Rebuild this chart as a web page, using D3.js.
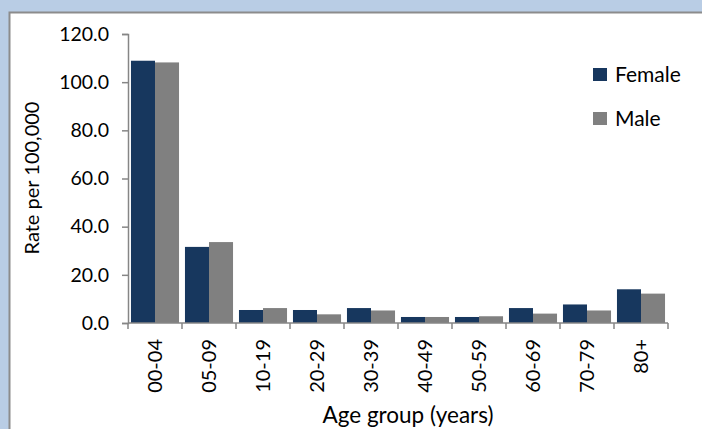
<!DOCTYPE html>
<html>
<head>
<meta charset="utf-8">
<script src="https://cdn.jsdelivr.net/npm/d3@7"></script>
<style>
  body { margin: 0; background: #b9cde5; }
  svg { display: block; }
  text { font-family: Lato, "Open Sans", sans-serif; fill: #000; }
</style>
</head>
<body>
<div id="chart"></div>
<script>
// data
let ageGroups = ["00-04", "05-09", "10-19", "20-29", "30-39", "40-49", "50-59", "60-69", "70-79", "80+"]
let femaleRate = [108.9, 31.6, 5.4, 5.4, 6.2, 2.5, 2.5, 6.2, 7.7, 14.0]
let maleRate = [108.2, 33.6, 6.2, 3.6, 5.2, 2.5, 2.8, 3.9, 5.2, 12.2]
let seriesNames = ["Female", "Male"]
let yTicks = [0, 20, 40, 60, 80, 100, 120]

let width = 702, height = 429
let color = { "Female": "#17375e", "Male": "#808080" }
let axisColor = "#868686"
let margin = { left: 128, top: 34, right: 34, bottom: 106 }

let svg = d3.select("#chart").append("svg")
    .attr("width", width)
    .attr("height", height)

// white panel with grey edge
svg.append("rect")
    .attr("x", 9.5).attr("y", 12.5)
    .attr("width", width).attr("height", height)
    .attr("fill", "#fff")
    .attr("stroke", "#8c8c8c")
    .attr("stroke-width", 2)

let x = d3.scaleBand()
    .domain(ageGroups)
    .range([margin.left, width - margin.right])
    .paddingInner(0.11)
    .paddingOuter(0.055)
let xSub = d3.scaleBand()
    .domain(seriesNames)
    .range([0, x.bandwidth()])
let y = d3.scaleLinear()
    .domain([0, 120])
    .range([height - margin.bottom, margin.top])

let rows = ageGroups.map((g, i) => ({ group: g, Female: femaleRate[i], Male: maleRate[i] }))

let groups = svg.append("g").selectAll("g")
    .data(rows)
    .enter()
    .append("g")
    .attr("transform", d => "translate(" + x(d.group) + ",0)")
groups.selectAll("rect")
    .data(d => seriesNames.map(s => ({ key: s, value: d[s] })))
    .enter()
    .append("rect")
    .attr("x", d => xSub(d.key))
    .attr("width", xSub.bandwidth())
    .attr("y", d => y(d.value))
    .attr("height", d => y(0) - y(d.value))
    .attr("fill", d => color[d.key])

// y axis
let yAxis = svg.append("g")
    .attr("transform", "translate(" + margin.left + ",0)")
    .call(d3.axisLeft(y).tickValues(yTicks).tickFormat(d3.format(".1f")).tickSize(6).tickPadding(13))
yAxis.selectAll("text").style("font-size", "19.5px")

// x axis: ticks at category boundaries
let x0 = margin.left, x1 = width - margin.right
let step = (x1 - x0) / ageGroups.length
let xAxis = svg.append("g")
xAxis.append("line")
    .attr("x1", x0).attr("x2", x1)
    .attr("y1", y(0)).attr("y2", y(0))
xAxis.selectAll(".xt")
    .data(d3.range(ageGroups.length + 1))
    .enter()
    .append("line")
    .attr("class", "xt")
    .attr("x1", i => x0 + i * step).attr("x2", i => x0 + i * step)
    .attr("y1", y(0)).attr("y2", y(0) + 6)
svg.selectAll(".domain, .tick line, g line").attr("stroke", axisColor).attr("stroke-width", 1.5)

xAxis.selectAll(".xl")
    .data(ageGroups)
    .enter()
    .append("text")
    .attr("class", "xl")
    .attr("transform", d => "translate(" + (x(d) + x.bandwidth() / 2 + 7) + "," + (y(0) + 16) + ") rotate(-90)")
    .attr("text-anchor", "end")
    .style("font-size", "20px")
    .text(d => d)

// axis titles
svg.append("text")
    .attr("x", 408).attr("y", 423)
    .attr("text-anchor", "middle")
    .style("font-size", "22.5px")
    .text("Age group (years)")
svg.append("text")
    .attr("transform", "translate(39,178) rotate(-90)")
    .attr("text-anchor", "middle")
    .style("font-size", "20px")
    .text("Rate per 100,000")

// legend
let legend = svg.append("g").selectAll("g")
    .data(seriesNames)
    .enter()
    .append("g")
    .attr("transform", (d, i) => "translate(593," + (68 + i * 44) + ")")
legend.append("rect")
    .attr("width", 14).attr("height", 13)
    .attr("fill", d => color[d])
legend.append("text")
    .attr("x", 22).attr("y", 14)
    .style("font-size", "21px")
    .text(d => d)
</script>
</body>
</html>
